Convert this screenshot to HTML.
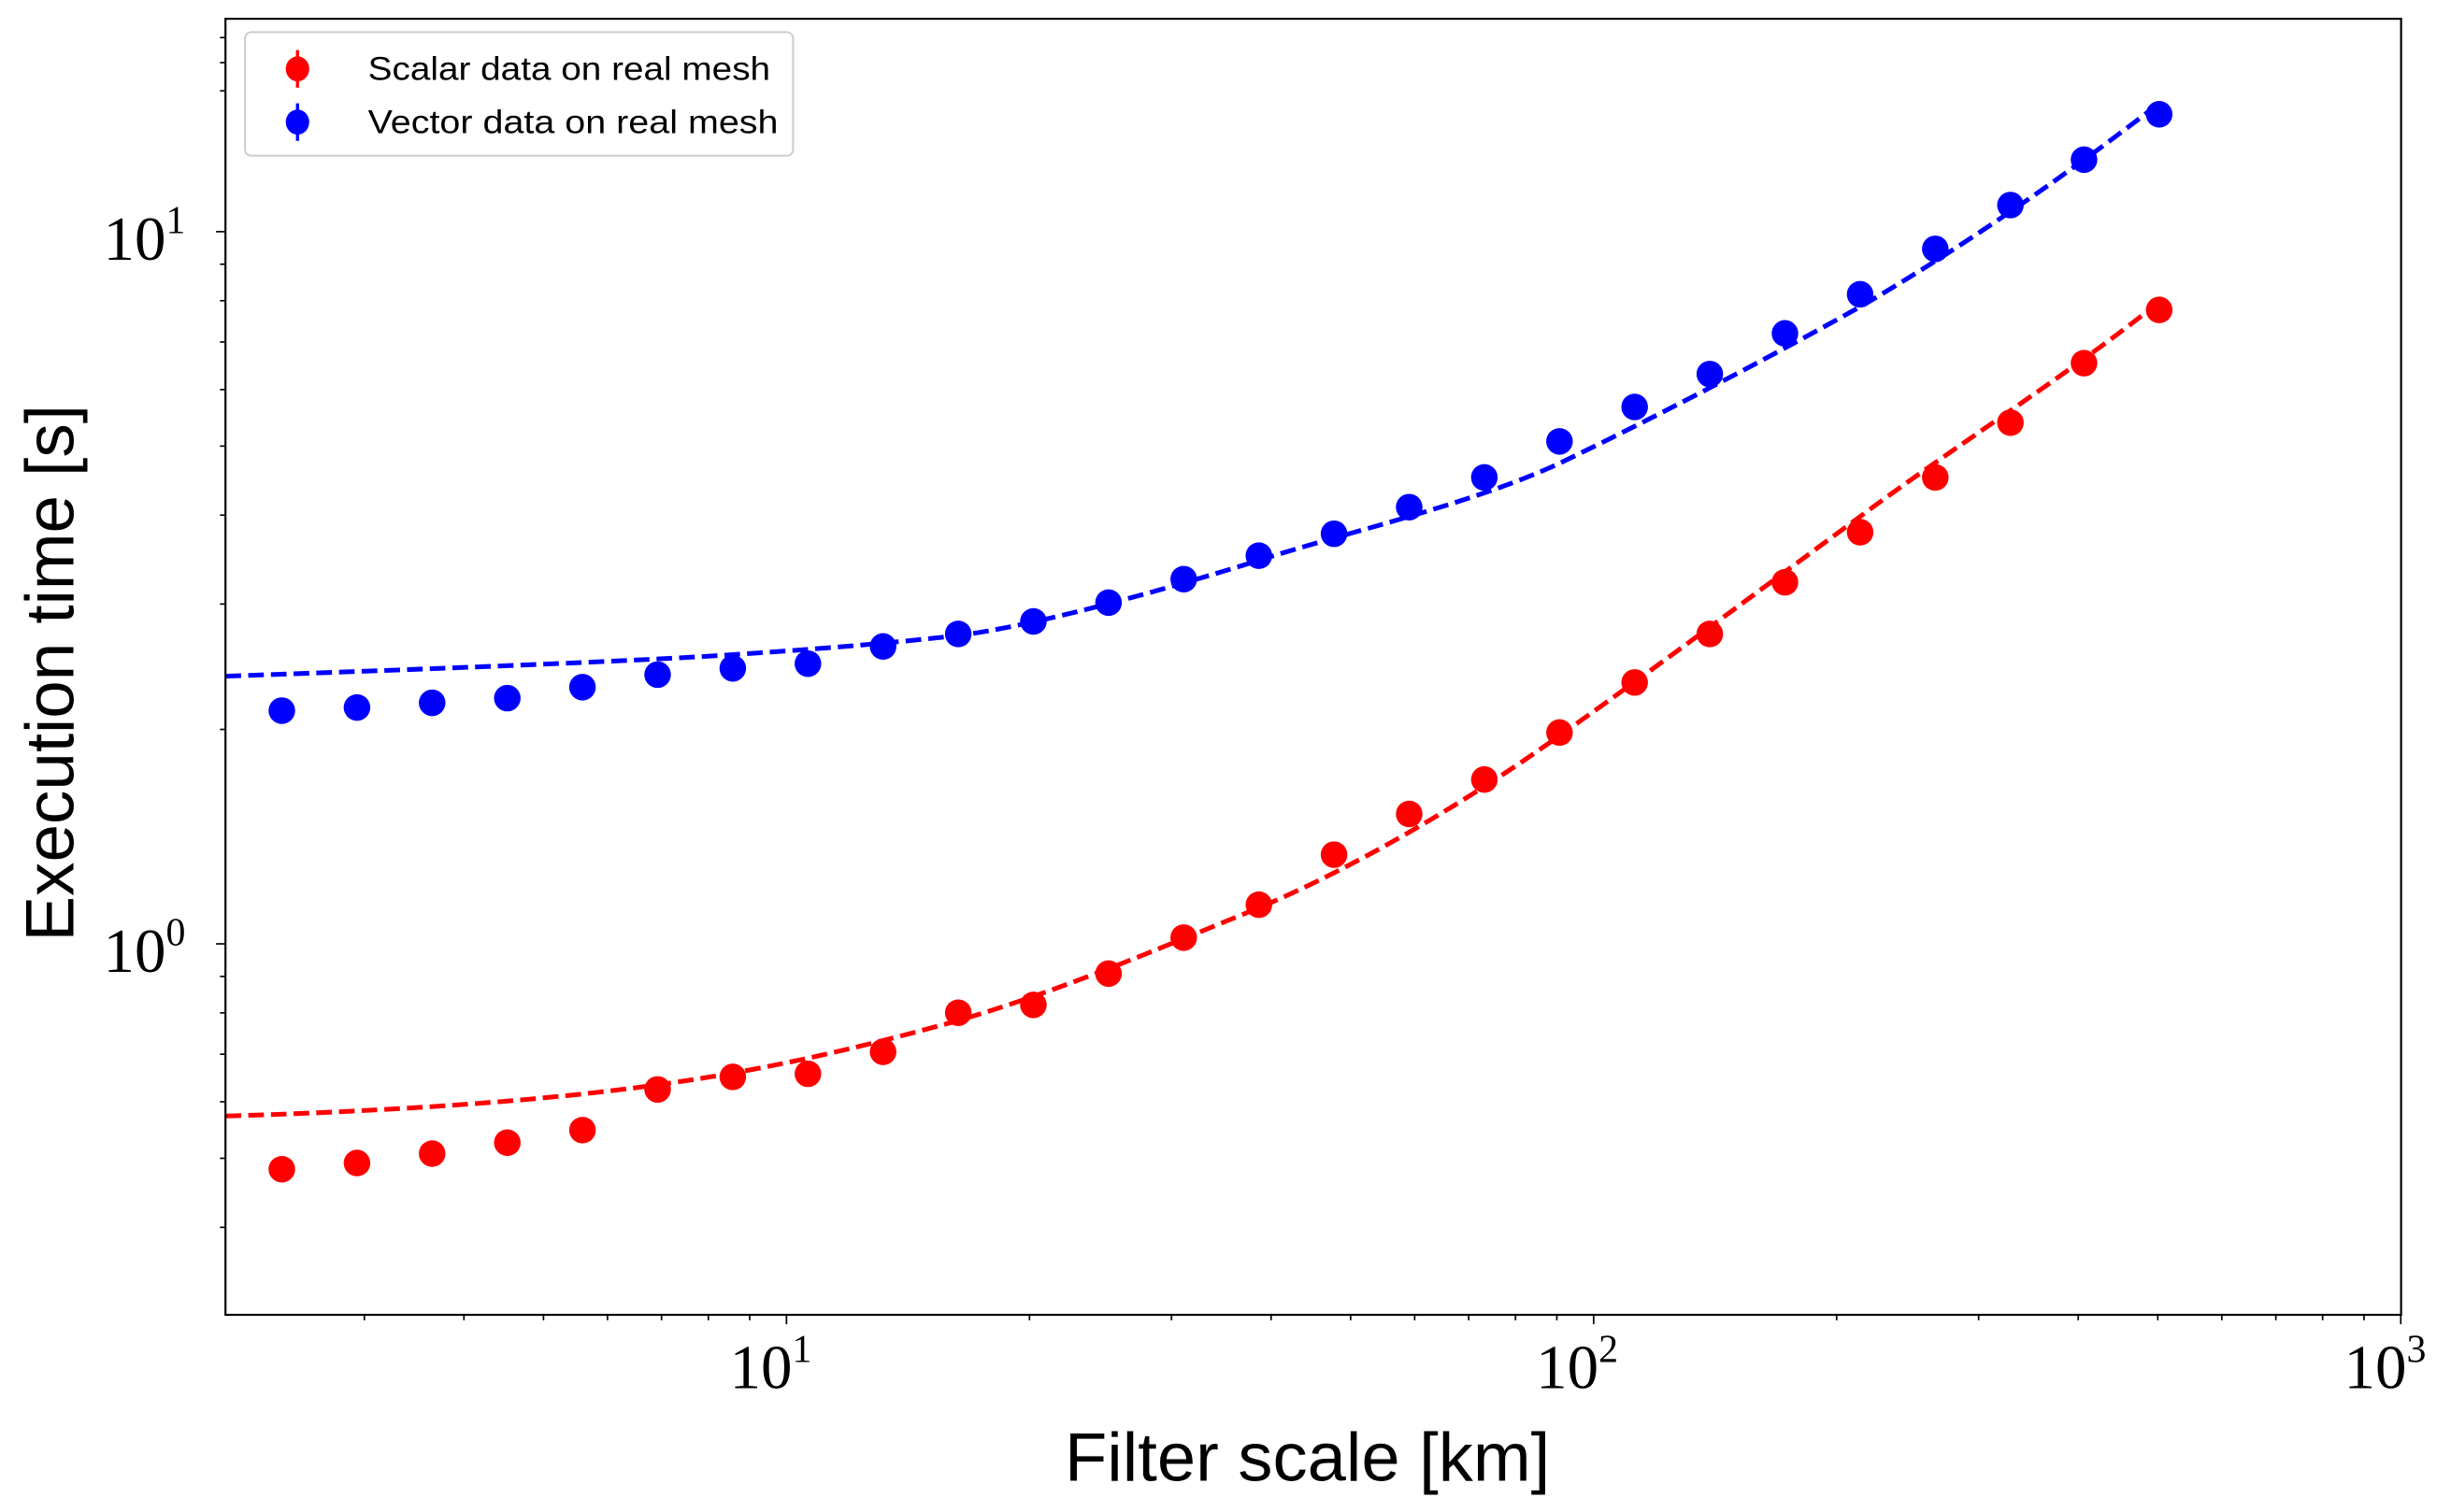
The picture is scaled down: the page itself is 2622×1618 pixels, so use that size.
<!DOCTYPE html>
<html><head><meta charset="utf-8"><style>html,body{margin:0;padding:0;background:#fff}svg{display:block}</style></head>
<body>
<svg width="2622" height="1618" viewBox="0 0 1565.37 965.97" xmlns="http://www.w3.org/2000/svg">
<rect x="0" y="0" width="1566" height="966" fill="#fff"/>
<g stroke="#000" stroke-width="1">
<line x1="232.7" y1="840" x2="232.7" y2="843.5"/><line x1="296.3" y1="840" x2="296.3" y2="843.5"/><line x1="347.1" y1="840" x2="347.1" y2="843.5"/><line x1="388" y1="840" x2="388" y2="843.5"/><line x1="422.5" y1="840" x2="422.5" y2="843.5"/><line x1="452.4" y1="840" x2="452.4" y2="843.5"/><line x1="478.8" y1="840" x2="478.8" y2="843.5"/><line x1="502.3" y1="840" x2="502.3" y2="846"/>
<line x1="657.5" y1="840" x2="657.5" y2="843.5"/><line x1="748.2" y1="840" x2="748.2" y2="843.5"/><line x1="811.8" y1="840" x2="811.8" y2="843.5"/><line x1="862.6" y1="840" x2="862.6" y2="843.5"/><line x1="903.5" y1="840" x2="903.5" y2="843.5"/><line x1="938" y1="840" x2="938" y2="843.5"/><line x1="967.9" y1="840" x2="967.9" y2="843.5"/><line x1="994.3" y1="840" x2="994.3" y2="843.5"/><line x1="1017.8" y1="840" x2="1017.8" y2="846"/>
<line x1="1173" y1="840" x2="1173" y2="843.5"/><line x1="1263.7" y1="840" x2="1263.7" y2="843.5"/><line x1="1327.3" y1="840" x2="1327.3" y2="843.5"/><line x1="1378.1" y1="840" x2="1378.1" y2="843.5"/><line x1="1419" y1="840" x2="1419" y2="843.5"/><line x1="1453.5" y1="840" x2="1453.5" y2="843.5"/><line x1="1483.4" y1="840" x2="1483.4" y2="843.5"/><line x1="1509.8" y1="840" x2="1509.8" y2="843.5"/><line x1="1533.3" y1="840" x2="1533.3" y2="846"/>
<line x1="144" y1="784.1" x2="140.5" y2="784.1"/><line x1="144" y1="740" x2="140.5" y2="740"/><line x1="144" y1="703.9" x2="140.5" y2="703.9"/><line x1="144" y1="673.5" x2="140.5" y2="673.5"/><line x1="144" y1="647.1" x2="140.5" y2="647.1"/><line x1="144" y1="623.8" x2="140.5" y2="623.8"/><line x1="144" y1="603" x2="138" y2="603"/>
<line x1="144" y1="466" x2="140.5" y2="466"/><line x1="144" y1="385.9" x2="140.5" y2="385.9"/><line x1="144" y1="329.1" x2="140.5" y2="329.1"/><line x1="144" y1="285" x2="140.5" y2="285"/><line x1="144" y1="248.9" x2="140.5" y2="248.9"/><line x1="144" y1="218.5" x2="140.5" y2="218.5"/><line x1="144" y1="192.1" x2="140.5" y2="192.1"/><line x1="144" y1="168.8" x2="140.5" y2="168.8"/><line x1="144" y1="148" x2="138" y2="148"/>
<line x1="144" y1="58" x2="140.5" y2="58"/><line x1="144" y1="40" x2="140.5" y2="40"/><line x1="144" y1="24" x2="140.5" y2="24"/>
</g>
<g font-family="Liberation Serif, serif" fill="#000">
  <text x="466" y="887" font-size="40">10<tspan font-size="25" dy="-17">1</tspan></text>
  <text x="981" y="887" font-size="40">10<tspan font-size="25" dy="-17">2</tspan></text>
  <text x="1497" y="887" font-size="40">10<tspan font-size="25" dy="-17">3</tspan></text>
  <text x="66" y="166" font-size="40">10<tspan font-size="25" dy="-17">1</tspan></text>
  <text x="66" y="621" font-size="40">10<tspan font-size="25" dy="-17">0</tspan></text>
</g>
<text x="835" y="946" font-family="Liberation Sans, sans-serif" font-size="44" text-anchor="middle" textLength="310" lengthAdjust="spacingAndGlyphs">Filter scale [km]</text>
<text transform="translate(47,430) rotate(-90)" font-family="Liberation Sans, sans-serif" font-size="44" text-anchor="middle" textLength="343" lengthAdjust="spacingAndGlyphs">Execution time [s]</text>
<g fill="none" stroke-width="3" stroke-dasharray="10,4.5">
<path stroke="#ff0000" d="M144,713 C250,710 350,703 420,693 C480,685 540,672 612,652 C680,632 740,606 804,580 C870,552 940,510 996,470 C1050,432 1120,380 1188,330 C1250,284 1320,240 1379,193"/>
<path stroke="#0000ff" d="M144,432 C260,428 360,424 420,421 C480,418 560,412 612,406 C660,400 740,378 804,358 C860,340 940,322 996,296 C1050,270 1120,234 1188,196 C1250,160 1320,112 1379,66"/>
</g>
<g fill="#ff0000">
<circle cx="180" cy="747" r="8.5"/><circle cx="228" cy="743" r="8.5"/><circle cx="276" cy="737" r="8.5"/><circle cx="324" cy="730" r="8.5"/><circle cx="372" cy="722" r="8.5"/><circle cx="420" cy="696" r="8.5"/><circle cx="468" cy="688" r="8.5"/><circle cx="516" cy="686" r="8.5"/><circle cx="564" cy="672" r="8.5"/><circle cx="612" cy="647" r="8.5"/><circle cx="660" cy="642" r="8.5"/><circle cx="708" cy="622" r="8.5"/><circle cx="756" cy="599" r="8.5"/><circle cx="804" cy="578" r="8.5"/><circle cx="852" cy="546" r="8.5"/><circle cx="900" cy="520" r="8.5"/><circle cx="948" cy="498" r="8.5"/><circle cx="996" cy="468" r="8.5"/><circle cx="1044" cy="436" r="8.5"/><circle cx="1092" cy="405" r="8.5"/><circle cx="1140" cy="372" r="8.5"/><circle cx="1188" cy="340" r="8.5"/><circle cx="1236" cy="305" r="8.5"/><circle cx="1284" cy="270" r="8.5"/><circle cx="1331" cy="232" r="8.5"/><circle cx="1379" cy="198" r="8.5"/>
</g>
<g fill="#0000ff">
<circle cx="180" cy="454" r="8.5"/><circle cx="228" cy="452" r="8.5"/><circle cx="276" cy="449" r="8.5"/><circle cx="324" cy="446" r="8.5"/><circle cx="372" cy="439" r="8.5"/><circle cx="420" cy="431" r="8.5"/><circle cx="468" cy="427" r="8.5"/><circle cx="516" cy="424" r="8.5"/><circle cx="564" cy="413" r="8.5"/><circle cx="612" cy="405" r="8.5"/><circle cx="660" cy="397" r="8.5"/><circle cx="708" cy="385" r="8.5"/><circle cx="756" cy="370" r="8.5"/><circle cx="804" cy="355" r="8.5"/><circle cx="852" cy="341" r="8.5"/><circle cx="900" cy="324" r="8.5"/><circle cx="948" cy="305" r="8.5"/><circle cx="996" cy="282" r="8.5"/><circle cx="1044" cy="260" r="8.5"/><circle cx="1092" cy="239" r="8.5"/><circle cx="1140" cy="213" r="8.5"/><circle cx="1188" cy="188" r="8.5"/><circle cx="1236" cy="159" r="8.5"/><circle cx="1284" cy="131" r="8.5"/><circle cx="1331" cy="102" r="8.5"/><circle cx="1379" cy="73" r="8.5"/>
</g>
<rect x="144" y="12" width="1389.5" height="828" fill="none" stroke="#000" stroke-width="1.3"/>
<rect x="156.5" y="20.5" width="350" height="79" rx="4" fill="#fff" fill-opacity="0.8" stroke="#ccc" stroke-width="1.2"/>
<line x1="190" y1="32" x2="190" y2="56" stroke="#ff0000" stroke-width="2"/>
<ellipse cx="190" cy="44" rx="7.5" ry="8" fill="#ff0000"/>
<line x1="190" y1="66" x2="190" y2="90" stroke="#0000ff" stroke-width="2"/>
<ellipse cx="190" cy="78" rx="7.5" ry="8" fill="#0000ff"/>
<g font-family="Liberation Sans, sans-serif" font-size="21" fill="#000">
<text x="235" y="51" textLength="257" lengthAdjust="spacingAndGlyphs">Scalar data on real mesh</text>
<text x="235" y="85" textLength="262" lengthAdjust="spacingAndGlyphs">Vector data on real mesh</text>
</g>
</svg>
</body></html>
